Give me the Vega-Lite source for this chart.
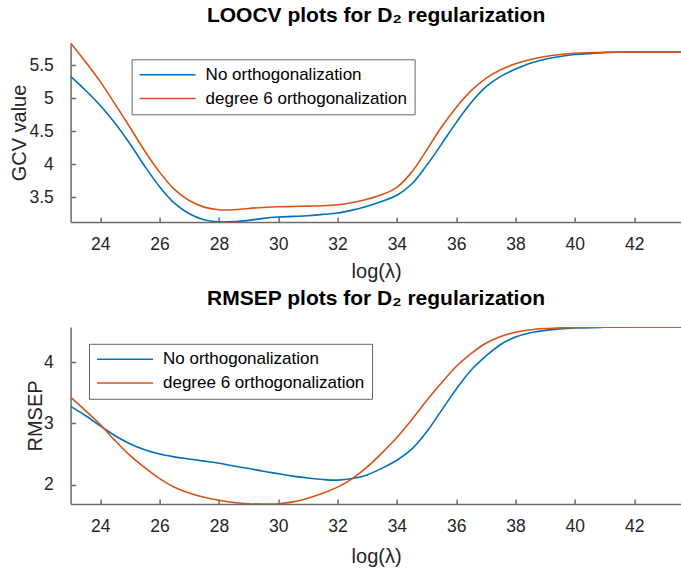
{
  "$schema": "https://vega.github.io/schema/vega-lite/v6.json",
  "autosize": "none",
  "padding": {"left": 70.6, "top": 43, "right": 610.4, "bottom": 527},
  "background": "white",
  "bounds": "flush",
  "spacing": 105,
  "resolve": {"scale": {"y": "independent"}, "legend": {"color": "independent"}},
  "config": {
    "view": {"stroke": null},
    "font": "Liberation Sans",
    "axis": {"domainColor": "#6b6b6b", "domainWidth": 1.5, "tickColor": "#6b6b6b", "tickWidth": 1.5, "tickSize": -5, "grid": false, "labelFont": "Liberation Sans", "labelFontSize": 17.5, "labelColor": "#262626", "titleFont": "Liberation Sans", "titleFontSize": 20, "titleFontWeight": "normal", "titleColor": "#262626", "labelFlush": false, "labelOverlap": false},
    "axisX": {"labelPadding": 18.7},
    "axisY": {"labelPadding": 22.3},
    "legend": {"strokeColor": "#666666", "fillColor": "#ffffff", "padding": 7, "symbolType": "stroke", "symbolSize": 3136, "symbolStrokeWidth": 1.6, "labelFont": "Liberation Sans", "labelFontSize": 17, "labelColor": "#000000", "labelOffset": 9, "clipHeight": 17, "rowPadding": 5.7, "labelLimit": 400},
    "title": {"font": "Liberation Sans", "fontSize": 21, "fontWeight": "bold", "color": "#000000", "baseline": "alphabetic", "anchor": "middle"}
  },
  "vconcat": [
    {
      "width": 611,
      "height": 179,
      "title": {"text": "LOOCV plots for D₂ regularization", "offset": 17},
      "data": {"values": [
        {"lam": 23.0, "No orthogonalization": 5.33, "degree 6 orthogonalization": 5.835},
        {"lam": 23.5, "No orthogonalization": 5.12, "degree 6 orthogonalization": 5.55},
        {"lam": 24.0, "No orthogonalization": 4.89, "degree 6 orthogonalization": 5.25},
        {"lam": 24.5, "No orthogonalization": 4.62, "degree 6 orthogonalization": 4.91},
        {"lam": 25.0, "No orthogonalization": 4.31, "degree 6 orthogonalization": 4.56},
        {"lam": 25.5, "No orthogonalization": 3.97, "degree 6 orthogonalization": 4.20},
        {"lam": 26.0, "No orthogonalization": 3.66, "degree 6 orthogonalization": 3.88},
        {"lam": 26.5, "No orthogonalization": 3.41, "degree 6 orthogonalization": 3.62},
        {"lam": 27.0, "No orthogonalization": 3.25, "degree 6 orthogonalization": 3.45},
        {"lam": 27.5, "No orthogonalization": 3.16, "degree 6 orthogonalization": 3.35},
        {"lam": 28.0, "No orthogonalization": 3.128, "degree 6 orthogonalization": 3.31},
        {"lam": 28.5, "No orthogonalization": 3.13, "degree 6 orthogonalization": 3.31},
        {"lam": 29.0, "No orthogonalization": 3.15, "degree 6 orthogonalization": 3.33},
        {"lam": 29.5, "No orthogonalization": 3.18, "degree 6 orthogonalization": 3.345},
        {"lam": 30.0, "No orthogonalization": 3.20, "degree 6 orthogonalization": 3.355},
        {"lam": 30.5, "No orthogonalization": 3.21, "degree 6 orthogonalization": 3.36},
        {"lam": 31.0, "No orthogonalization": 3.22, "degree 6 orthogonalization": 3.365},
        {"lam": 31.5, "No orthogonalization": 3.24, "degree 6 orthogonalization": 3.37},
        {"lam": 32.0, "No orthogonalization": 3.26, "degree 6 orthogonalization": 3.385},
        {"lam": 32.5, "No orthogonalization": 3.305, "degree 6 orthogonalization": 3.42},
        {"lam": 33.0, "No orthogonalization": 3.365, "degree 6 orthogonalization": 3.47},
        {"lam": 33.5, "No orthogonalization": 3.44, "degree 6 orthogonalization": 3.54},
        {"lam": 34.0, "No orthogonalization": 3.53, "degree 6 orthogonalization": 3.65},
        {"lam": 34.5, "No orthogonalization": 3.70, "degree 6 orthogonalization": 3.88},
        {"lam": 35.0, "No orthogonalization": 3.98, "degree 6 orthogonalization": 4.21},
        {"lam": 35.5, "No orthogonalization": 4.30, "degree 6 orthogonalization": 4.56},
        {"lam": 36.0, "No orthogonalization": 4.63, "degree 6 orthogonalization": 4.86},
        {"lam": 36.5, "No orthogonalization": 4.93, "degree 6 orthogonalization": 5.11},
        {"lam": 37.0, "No orthogonalization": 5.17, "degree 6 orthogonalization": 5.30},
        {"lam": 37.5, "No orthogonalization": 5.33, "degree 6 orthogonalization": 5.43},
        {"lam": 38.0, "No orthogonalization": 5.44, "degree 6 orthogonalization": 5.52},
        {"lam": 38.5, "No orthogonalization": 5.53, "degree 6 orthogonalization": 5.585},
        {"lam": 39.0, "No orthogonalization": 5.59, "degree 6 orthogonalization": 5.63},
        {"lam": 39.5, "No orthogonalization": 5.63, "degree 6 orthogonalization": 5.66},
        {"lam": 40.0, "No orthogonalization": 5.66, "degree 6 orthogonalization": 5.68},
        {"lam": 41.0, "No orthogonalization": 5.69, "degree 6 orthogonalization": 5.695},
        {"lam": 42.0, "No orthogonalization": 5.70, "degree 6 orthogonalization": 5.70},
        {"lam": 43.6, "No orthogonalization": 5.70, "degree 6 orthogonalization": 5.70}
      ]},
      "transform": [{"fold": ["No orthogonalization", "degree 6 orthogonalization"], "as": ["series", "value"]}],
      "mark": {"type": "line", "interpolate": "catmull-rom", "strokeWidth": 1.6, "clip": true},
      "encoding": {
        "x": {"field": "lam", "type": "quantitative", "scale": {"domain": [23, 43.6], "nice": false, "zero": false},
              "axis": {"values": [24, 26, 28, 30, 32, 34, 36, 38, 40, 42], "title": "log(λ)", "titleY": 55.8, "titleBaseline": "alphabetic"}},
        "y": {"field": "value", "type": "quantitative", "scale": {"domain": [3.125, 5.835], "nice": false, "zero": false},
              "axis": {"values": [3.5, 4, 4.5, 5, 5.5], "format": "~g", "title": "GCV value", "titleX": -45.6, "titleBaseline": "alphabetic"}},
        "color": {"field": "series", "type": "nominal", "scale": {"domain": ["No orthogonalization", "degree 6 orthogonalization"], "range": ["#0072BD", "#D95319"]},
                  "legend": {"orient": "none", "legendX": 61, "legendY": 16.3, "title": null}}
      }
    },
    {
      "width": 611,
      "height": 177,
      "title": {"text": "RMSEP plots for D₂ regularization", "offset": 18.4},
      "data": {"values": [
        {"lam": 23.0, "No orthogonalization": 3.28, "degree 6 orthogonalization": 3.43},
        {"lam": 23.5, "No orthogonalization": 3.13, "degree 6 orthogonalization": 3.21},
        {"lam": 24.0, "No orthogonalization": 2.96, "degree 6 orthogonalization": 2.98},
        {"lam": 24.5, "No orthogonalization": 2.80, "degree 6 orthogonalization": 2.72},
        {"lam": 25.0, "No orthogonalization": 2.67, "degree 6 orthogonalization": 2.48},
        {"lam": 25.5, "No orthogonalization": 2.57, "degree 6 orthogonalization": 2.28},
        {"lam": 26.0, "No orthogonalization": 2.50, "degree 6 orthogonalization": 2.10},
        {"lam": 26.5, "No orthogonalization": 2.455, "degree 6 orthogonalization": 1.96},
        {"lam": 27.0, "No orthogonalization": 2.42, "degree 6 orthogonalization": 1.865},
        {"lam": 27.5, "No orthogonalization": 2.385, "degree 6 orthogonalization": 1.795},
        {"lam": 28.0, "No orthogonalization": 2.35, "degree 6 orthogonalization": 1.745},
        {"lam": 28.5, "No orthogonalization": 2.305, "degree 6 orthogonalization": 1.71},
        {"lam": 29.0, "No orthogonalization": 2.265, "degree 6 orthogonalization": 1.69},
        {"lam": 29.5, "No orthogonalization": 2.22, "degree 6 orthogonalization": 1.685},
        {"lam": 30.0, "No orthogonalization": 2.18, "degree 6 orthogonalization": 1.69},
        {"lam": 30.5, "No orthogonalization": 2.14, "degree 6 orthogonalization": 1.72},
        {"lam": 31.0, "No orthogonalization": 2.11, "degree 6 orthogonalization": 1.78},
        {"lam": 31.5, "No orthogonalization": 2.085, "degree 6 orthogonalization": 1.86},
        {"lam": 32.0, "No orthogonalization": 2.075, "degree 6 orthogonalization": 1.96},
        {"lam": 32.5, "No orthogonalization": 2.10, "degree 6 orthogonalization": 2.10},
        {"lam": 33.0, "No orthogonalization": 2.16, "degree 6 orthogonalization": 2.29},
        {"lam": 33.5, "No orthogonalization": 2.27, "degree 6 orthogonalization": 2.52},
        {"lam": 34.0, "No orthogonalization": 2.40, "degree 6 orthogonalization": 2.77},
        {"lam": 34.5, "No orthogonalization": 2.58, "degree 6 orthogonalization": 3.06},
        {"lam": 35.0, "No orthogonalization": 2.86, "degree 6 orthogonalization": 3.37},
        {"lam": 35.5, "No orthogonalization": 3.21, "degree 6 orthogonalization": 3.66},
        {"lam": 36.0, "No orthogonalization": 3.56, "degree 6 orthogonalization": 3.93},
        {"lam": 36.5, "No orthogonalization": 3.87, "degree 6 orthogonalization": 4.14},
        {"lam": 37.0, "No orthogonalization": 4.10, "degree 6 orthogonalization": 4.31},
        {"lam": 37.5, "No orthogonalization": 4.29, "degree 6 orthogonalization": 4.42},
        {"lam": 38.0, "No orthogonalization": 4.41, "degree 6 orthogonalization": 4.49},
        {"lam": 38.5, "No orthogonalization": 4.48, "degree 6 orthogonalization": 4.53},
        {"lam": 39.0, "No orthogonalization": 4.52, "degree 6 orthogonalization": 4.55},
        {"lam": 39.5, "No orthogonalization": 4.545, "degree 6 orthogonalization": 4.56},
        {"lam": 40.0, "No orthogonalization": 4.56, "degree 6 orthogonalization": 4.567},
        {"lam": 41.0, "No orthogonalization": 4.57, "degree 6 orthogonalization": 4.573},
        {"lam": 42.0, "No orthogonalization": 4.574, "degree 6 orthogonalization": 4.575},
        {"lam": 43.6, "No orthogonalization": 4.575, "degree 6 orthogonalization": 4.575}
      ]},
      "transform": [{"fold": ["No orthogonalization", "degree 6 orthogonalization"], "as": ["series", "value"]}],
      "mark": {"type": "line", "interpolate": "catmull-rom", "strokeWidth": 1.6, "clip": true},
      "encoding": {
        "x": {"field": "lam", "type": "quantitative", "scale": {"domain": [23, 43.6], "nice": false, "zero": false},
              "axis": {"values": [24, 26, 28, 30, 32, 34, 36, 38, 40, 42], "title": "log(λ)", "titleY": 58, "titleBaseline": "alphabetic"}},
        "y": {"field": "value", "type": "quantitative", "scale": {"domain": [1.685, 4.575], "nice": false, "zero": false},
              "axis": {"values": [2, 3, 4], "format": "~g", "title": "RMSEP", "titleX": -29, "titleBaseline": "alphabetic"}},
        "color": {"field": "series", "type": "nominal", "scale": {"domain": ["No orthogonalization", "degree 6 orthogonalization"], "range": ["#0072BD", "#D95319"]},
                  "legend": {"orient": "none", "legendX": 18.4, "legendY": 16.8, "title": null}}
      }
    }
  ]
}
